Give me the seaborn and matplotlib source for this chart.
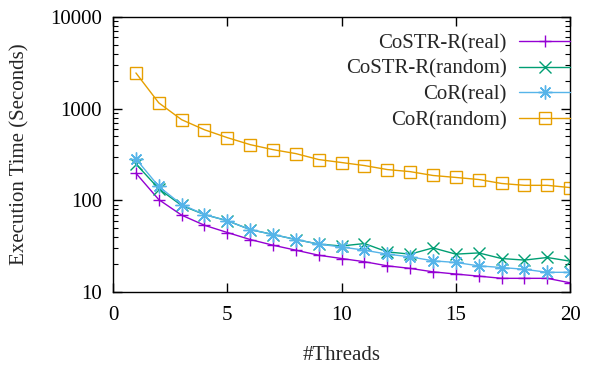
import matplotlib
matplotlib.use('Agg')
import matplotlib.pyplot as plt
import seaborn as sns
import numpy as np
from matplotlib.ticker import FixedLocator, LogLocator, NullFormatter

# Data
threads = list(range(1, 21))
costr_real = [198, 102, 69, 53.5, 44.6, 37.4, 32.4, 28.6, 25.2, 23.2,
              21.4, 19.3, 18.1, 16.6, 15.7, 14.9, 14.1, 14.1, 14.1, 12.6]
costr_random = [250, 134, 88, 70, 60, 48, 42.4, 37.4, 33.3, 31.8,
                33.8, 27.4, 25.9, 30.3, 25.9, 26.7, 23.2, 22.3, 23.8, 21.7]
cor_real = [284, 142, 90, 70, 60, 48, 42.4, 37.4, 33.3, 31,
            28.6, 25.9, 24.2, 21.9, 21.0, 19.3, 18.5, 17.7, 16.4, 16.4]
cor_random = [2460, 1160, 760, 590, 484, 406, 358, 324, 279, 259,
              240, 217, 206, 187, 178, 169, 153, 146, 146, 138]

labels = ['CoSTR-R(real)', 'CoSTR-R(random)', 'CoR(real)', 'CoR(random)']
colors = ['#9400D3', '#009E73', '#56B4E9', '#E69F00']
markers = ['+', 'x', (8, 2, 0), 's']
sizes = [9, 9, 10, 9]

sns.set_style('ticks')
plt.rcParams['font.family'] = ['Liberation Serif', 'DejaVu Serif']
fs = 15

fig = plt.figure(figsize=(5.92, 3.65), dpi=100)
ax = fig.add_axes([0.191, 0.2, 0.772, 0.753])

for vals, lab, c, m, s in zip([costr_real, costr_random, cor_real, cor_random],
                              labels, colors, markers, sizes):
    sns.lineplot(x=threads, y=vals, color=c, marker=m, markersize=s,
                 mec=c, mfc='none', mew=1.0, lw=1.0, label=lab, ax=ax)

ax.set_yscale('log')
ax.set_ylim(10, 10000)
ax.set_xlim(0, 20)
ax.xaxis.set_major_locator(FixedLocator([0, 5, 10, 15, 20]))
ax.yaxis.set_major_locator(FixedLocator([10, 100, 1000, 10000]))
ax.set_yticklabels(['10', '100', '1000', '10000'])
ax.yaxis.set_minor_locator(LogLocator(base=10, subs=np.arange(2, 10)))
ax.yaxis.set_minor_formatter(NullFormatter())

for side in ['top', 'right', 'left', 'bottom']:
    ax.spines[side].set_visible(True)
    ax.spines[side].set_color('black')
    ax.spines[side].set_linewidth(1.0)
ax.tick_params(which='both', direction='in', top=True, right=True, colors='black')
ax.tick_params(which='major', length=6.5, width=1.0)
ax.tick_params(which='minor', length=3.5, width=0.8)
ax.tick_params(axis='y', labelsize=fs, pad=8)
ax.tick_params(axis='x', labelsize=fs, pad=10)

ax.set_xlabel('#Threads', fontsize=fs, labelpad=15)
ax.set_ylabel('Execution Time (Seconds)', fontsize=fs, labelpad=15)

ax.legend(loc='upper right', frameon=False, markerfirst=False,
          handlelength=2.45, handletextpad=0.6, labelspacing=0.29,
          bbox_to_anchor=(1.0, 0.94), borderaxespad=0, borderpad=0,
          fontsize=fs)

fig.savefig('out.png', dpi=100)
